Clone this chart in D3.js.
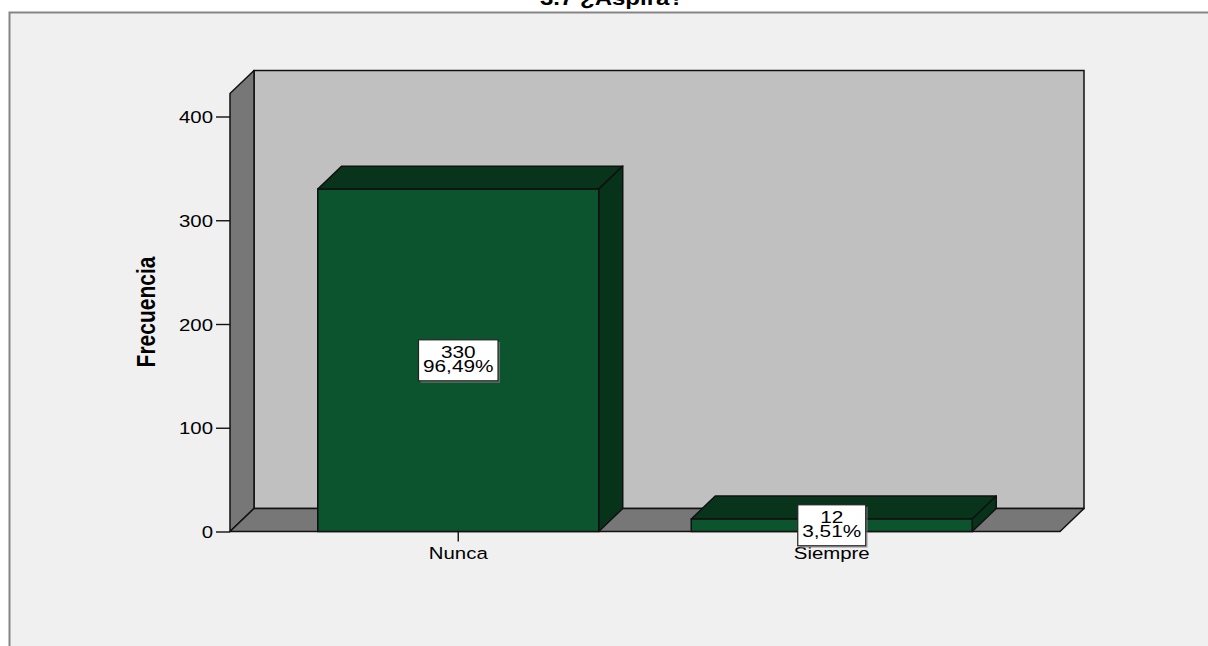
<!DOCTYPE html>
<html><head><meta charset="utf-8">
<script src="https://cdn.jsdelivr.net/npm/d3@7"></script>
<style>
html,body{margin:0;padding:0;background:#fff;}
svg{display:block;}
text{font-family:"Liberation Sans",Arial,sans-serif;fill:#000;}
</style></head>
<body>
<svg id="chart" width="1208" height="646"></svg>
<script>
const title = "3.7 ¿Aspira?";
const yTitle = "Frecuencia";
const categories = ["Nunca", "Siempre"];
const counts = [330, 12];
const percents = ["96,49%", "3,51%"];
const yTicks = [0, 100, 200, 300, 400];

const svg = d3.select("#chart");
const dx = 24, dy = 23;
const sx = 1.2; // horizontal stretch of the original rendering

// frame
svg.append("rect").attr("x", 9.5).attr("y", 12.5).attr("width", 1300).attr("height", 700)
  .attr("fill", "#f0f0f0").attr("stroke", "#858585").attr("stroke-width", 2);

// title (clipped at top like reference)
svg.append("text").attr("text-anchor", "middle")
  .attr("transform", `translate(612,5) scale(${sx},1)`)
  .attr("font-weight", "bold").attr("font-size", 20).text(title);

const y = d3.scaleLinear().domain([0, 400]).range([531.5, 116.5]);
const x = d3.scaleBand().domain(categories).range([230, 1060])
  .paddingInner(0.2477).paddingOuter(0.235);

const x0 = x.range()[0], x1 = x.range()[1];
const yBase = y(0), yWallTop = y(400) - dy;

const stroke = "#111", sw = 1.5;
// back wall
svg.append("rect").attr("x", x0 + dx).attr("y", yWallTop - dy)
  .attr("width", x1 - x0).attr("height", yBase - yWallTop)
  .attr("fill", "#c0c0c0").attr("stroke", stroke).attr("stroke-width", sw);
// left wall
svg.append("path").attr("d", `M${x0},${yWallTop} L${x0+dx},${yWallTop-dy} L${x0+dx},${yBase-dy} L${x0},${yBase} Z`)
  .attr("fill", "#777").attr("stroke", stroke).attr("stroke-width", sw).attr("stroke-linejoin", "round");
// floor
svg.append("path").attr("d", `M${x0},${yBase} L${x0+dx},${yBase-dy} L${x1+dx},${yBase-dy} L${x1},${yBase} Z`)
  .attr("fill", "#777").attr("stroke", stroke).attr("stroke-width", sw).attr("stroke-linejoin", "round");

// bars
const data = categories.map((c, i) => ({cat: c, v: counts[i], p: percents[i]}));
const bars = svg.append("g").selectAll("g").data(data).join("g");
bars.each(function(d) {
  const g = d3.select(this);
  const L = x(d.cat), R = x(d.cat) + x.bandwidth(), T = y(d.v), B = y(0);
  g.append("path").attr("d", `M${L},${T} L${L+dx},${T-dy} L${R+dx},${T-dy} L${R},${T} Z`)
    .attr("fill", "#08341c").attr("stroke", stroke).attr("stroke-width", sw).attr("stroke-linejoin", "round");
  g.append("path").attr("d", `M${R},${T} L${R+dx},${T-dy} L${R+dx},${B-dy} L${R},${B} Z`)
    .attr("fill", "#07331b").attr("stroke", stroke).attr("stroke-width", sw).attr("stroke-linejoin", "round");
  g.append("rect").attr("x", L).attr("y", T).attr("width", R - L).attr("height", B - T)
    .attr("fill", "#0b542d").attr("stroke", stroke).attr("stroke-width", sw);
});

// y axis
const yAxis = svg.append("g").attr("transform", `translate(${x0},0)`)
  .call(d3.axisLeft(y).tickValues(yTicks).tickSize(14).tickFormat(d3.format("d")));
yAxis.select(".domain").remove();
yAxis.selectAll(".tick line").attr("stroke", "#111").attr("stroke-width", 1.4);
yAxis.selectAll(".tick text").attr("x", 0).attr("dy", "0.36em")
  .attr("transform", `translate(-17,0) scale(${sx},1)`)
  .attr("font-size", 17).attr("fill", "#000").attr("font-family", "Liberation Sans, Arial, sans-serif");

// x axis
const xAxis = svg.append("g").attr("transform", `translate(0,${yBase})`)
  .call(d3.axisBottom(x).tickSize(10).tickSizeOuter(0));
xAxis.select(".domain").remove();
xAxis.selectAll(".tick line").attr("stroke", "#111").attr("stroke-width", 1.4);
xAxis.selectAll(".tick text").attr("y", 0).attr("dy", 0)
  .attr("transform", `translate(0,27.5) scale(${sx},1)`)
  .attr("font-size", 17).attr("fill", "#000").attr("font-family", "Liberation Sans, Arial, sans-serif");

// y title
svg.append("text").attr("text-anchor", "middle")
  .attr("transform", `translate(155,312) scale(${sx},1) rotate(-90)`)
  .attr("font-weight", "bold").attr("font-size", 21).text(yTitle);

// value labels (drawn over the axis ticks)
const lsx = 1.3;
const labels = svg.append("g").selectAll("g").data(data).join("g");
labels.each(function(d) {
  const g = d3.select(this);
  const cx = x(d.cat) + x.bandwidth() / 2;
  const cy = (y(d.v) + y(0)) / 2;
  const shadow = g.append("rect");
  const box = g.append("rect");
  const t = g.append("text").attr("text-anchor", "middle").attr("font-size", 16)
    .attr("transform", `translate(${cx},${cy - 2}) scale(${lsx},1)`);
  t.append("tspan").attr("x", 0).attr("y", 0).text(d.v);
  t.append("tspan").attr("x", 0).attr("y", 14).text(d.p);
  const w = t.node().getBBox().width * lsx + 9;
  const h = 41;
  shadow.attr("x", cx - w / 2 + 2).attr("y", cy - h / 2 + 2).attr("width", w).attr("height", h)
    .attr("fill", "#8a8a8a").attr("opacity", 0.6);
  box.attr("x", cx - w / 2).attr("y", cy - h / 2).attr("width", w).attr("height", h)
    .attr("fill", "#fff").attr("stroke", "#222").attr("stroke-width", 1.2);
});
</script>
</body></html>
